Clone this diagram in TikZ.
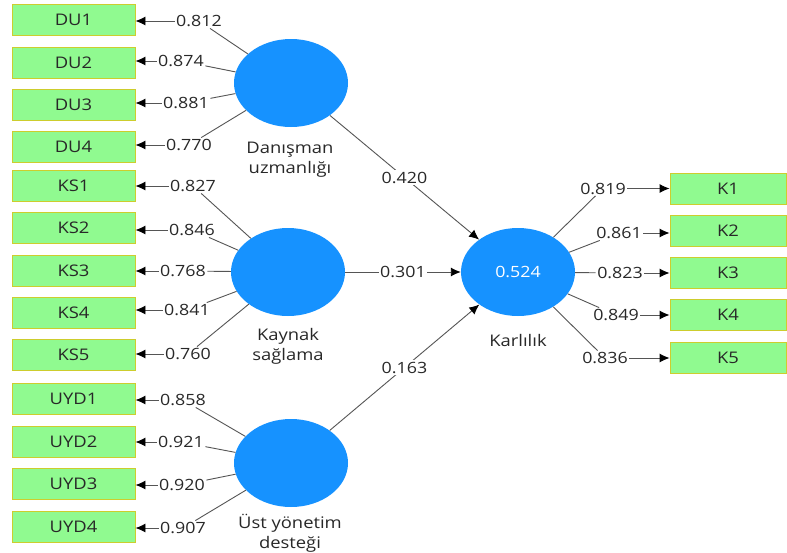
\documentclass[tikz,border=0pt]{standalone}
\usepackage{fontspec}
\setmainfont{Open Sans}[FakeStretch=1.15]
\usetikzlibrary{arrows.meta,shapes.geometric}
\definecolor{indfill}{RGB}{144,250,144}
\definecolor{inddraw}{RGB}{205,205,45}
\definecolor{latfill}{RGB}{22,146,255}
\definecolor{pathgray}{RGB}{85,85,85}
\definecolor{txt}{RGB}{40,40,40}
\begin{document}
\begin{tikzpicture}[x=1pt,y=-1pt,text=txt,
  ind/.style={draw=inddraw,fill=indfill,line width=.9pt,minimum width=123pt,minimum height=31pt,inner sep=0pt,font=\fontsize{16}{18}\selectfont},
  lat/.style={ellipse,fill=latfill,minimum width=114pt,minimum height=88pt,inner sep=0pt},
  latname/.style={font=\fontsize{16}{20}\selectfont,align=center},
  val/.style={fill=white,inner sep=1.5pt,font=\fontsize{15.5}{18}\selectfont},
  link/.style={draw=pathgray,line width=.9pt},
  flow/.style={draw=pathgray,line width=.9pt,-{Latex[length=10pt,width=9pt,black]}}]
\useasboundingbox (0,0) rectangle (787,552);
\fill[white] (0,0) rectangle (787,552);

% LATENT VARIABLES
\node[lat] (du) at (291,83) {};
\node[lat] (ks) at (288,272) {};
\node[lat] (uyd) at (291,463) {};
\node[lat] (kar) at (518,272) {\color{white}\fontsize{15.5}{18}\selectfont 0.524};
\node[latname] (duname) at (290,160) {Danışman\\uzmanlığı};
\node[latname] (ksname) at (288,346) {Kaynak\\sağlama};
\node[latname] (uydname) at (290,533) {Üst yönetim\\desteği};
\node[latname] (karname) at (518,340) {Karlılık};

% INDICATORS
\node[ind] (du1) at (73.5,20) {DU1};
\node[ind] (du2) at (73.5,62.5) {DU2};
\node[ind] (du3) at (73.5,104.5) {DU3};
\node[ind] (du4) at (73.5,147) {DU4};
\node[ind] (ks1) at (73.5,185.5) {KS1};
\node[ind] (ks2) at (73.5,228) {KS2};
\node[ind] (ks3) at (73.5,270.5) {KS3};
\node[ind] (ks4) at (73.5,312.5) {KS4};
\node[ind] (ks5) at (73.5,355) {KS5};
\node[ind] (uyd1) at (73.5,398.5) {UYD1};
\node[ind] (uyd2) at (73.5,441.5) {UYD2};
\node[ind] (uyd3) at (73.5,484) {UYD3};
\node[ind] (uyd4) at (73.5,527) {UYD4};
\node[ind,minimum width=116pt] (k1) at (728,188.5) {K1};
\node[ind,minimum width=116pt] (k2) at (728,231) {K2};
\node[ind,minimum width=116pt] (k3) at (728,273) {K3};
\node[ind,minimum width=116pt] (k4) at (728,315) {K4};
\node[ind,minimum width=116pt] (k5) at (728,357.5) {K5};

% OUTER LOADINGS
\node[val] (ldu1) at (199,21) {0.812};
\node[val] (ldu2) at (181,61) {0.874};
\node[val] (ldu3) at (186,103) {0.881};
\node[val] (ldu4) at (189,145) {0.770};
\node[val] (lks1) at (193,186) {0.827};
\node[val] (lks2) at (192,230) {0.846};
\node[val] (lks3) at (183,271) {0.768};
\node[val] (lks4) at (187,310) {0.841};
\node[val] (lks5) at (188,354) {0.760};
\node[val] (luyd1) at (183,400) {0.858};
\node[val] (luyd2) at (181,442) {0.921};
\node[val] (luyd3) at (182,485) {0.920};
\node[val] (luyd4) at (183,528) {0.907};
\node[val] (lk1) at (603,188.5) {0.819};
\node[val] (lk2) at (619,233) {0.861};
\node[val] (lk3) at (620,273) {0.823};
\node[val] (lk4) at (616,315) {0.849};
\node[val] (lk5) at (605,358) {0.836};

\draw[link] (du) -- (ldu1); \draw[flow] (ldu1.west) -- (ldu1.west -| du1.east);
\draw[link] (du) -- (ldu2); \draw[flow] (ldu2.west) -- (ldu2.west -| du2.east);
\draw[link] (du) -- (ldu3); \draw[flow] (ldu3.west) -- (ldu3.west -| du3.east);
\draw[link] (du) -- (ldu4); \draw[flow] (ldu4.west) -- (ldu4.west -| du4.east);
\draw[link] (ks) -- (lks1); \draw[flow] (lks1.west) -- (lks1.west -| ks1.east);
\draw[link] (ks) -- (lks2); \draw[flow] (lks2.west) -- (lks2.west -| ks2.east);
\draw[link] (ks) -- (lks3); \draw[flow] (lks3.west) -- (lks3.west -| ks3.east);
\draw[link] (ks) -- (lks4); \draw[flow] (lks4.west) -- (lks4.west -| ks4.east);
\draw[link] (ks) -- (lks5); \draw[flow] (lks5.west) -- (lks5.west -| ks5.east);
\draw[link] (uyd) -- (luyd1); \draw[flow] (luyd1.west) -- (luyd1.west -| uyd1.east);
\draw[link] (uyd) -- (luyd2); \draw[flow] (luyd2.west) -- (luyd2.west -| uyd2.east);
\draw[link] (uyd) -- (luyd3); \draw[flow] (luyd3.west) -- (luyd3.west -| uyd3.east);
\draw[link] (uyd) -- (luyd4); \draw[flow] (luyd4.west) -- (luyd4.west -| uyd4.east);
\draw[link] (kar) -- (lk1); \draw[flow] (lk1.east) -- (lk1.east -| k1.west);
\draw[link] (kar) -- (lk2); \draw[flow] (lk2.east) -- (lk2.east -| k2.west);
\draw[link] (kar) -- (lk3); \draw[flow] (lk3.east) -- (lk3.east -| k3.west);
\draw[link] (kar) -- (lk4); \draw[flow] (lk4.east) -- (lk4.east -| k4.west);
\draw[link] (kar) -- (lk5); \draw[flow] (lk5.east) -- (lk5.east -| k5.west);

% PATH COEFFICIENTS
\draw[flow] (du) -- node[val] (pdu) {0.420} (kar);
\draw[flow] (ks) -- node[val] (pks) {0.301} (kar);
\draw[flow] (uyd) -- node[val] (puyd) {0.163} (kar);
\end{tikzpicture}
\end{document}
